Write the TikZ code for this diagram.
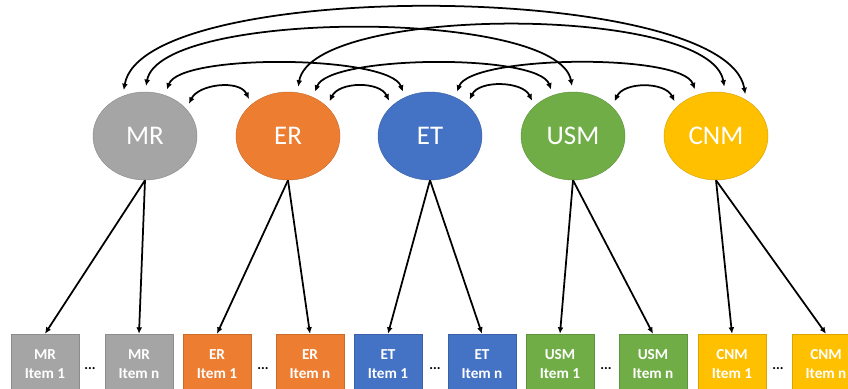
\documentclass[tikz,border=0pt]{standalone}
\usepackage{fontspec}
\setmainfont{Carlito}
\usetikzlibrary{shapes,arrows.meta}
\definecolor{mrgray}{HTML}{A5A5A5}
\definecolor{erorange}{HTML}{ED7D31}
\definecolor{etblue}{HTML}{4472C4}
\definecolor{usmgreen}{HTML}{70AD47}
\definecolor{cnmgold}{HTML}{FFC000}
\tikzstyle{factor} = [ellipse,minimum width=3.12cm,minimum height=2.64cm,inner sep=0pt,text=white,font=\fontsize{23}{26}\selectfont]
\tikzstyle{item} = [rectangle,minimum width=2.04cm,minimum height=1.8cm,inner sep=0pt,align=center,text=white,font=\bfseries\fontsize{13}{16}\selectfont]
\tikzstyle{dots} = [inner sep=0pt,anchor=base,font=\bfseries\fontsize{12}{14}\selectfont]
\tikzstyle{corr} = [<->,line width=1.5pt,shorten <=5pt,shorten >=5pt]
\tikzstyle{load} = [->,line width=1.5pt]
\tikzset{>={Latex[length=5.5pt,width=5pt]}}

\begin{document}
\begin{tikzpicture}[x=0.03cm,y=0.03cm]
    \useasboundingbox (0,0) rectangle (848,388);

    \node [factor,fill=mrgray,draw=mrgray!85!black] (MR) at (145,252) {MR};
    \node [factor,fill=erorange,draw=erorange!85!black] (ER) at (288,252) {ER};
    \node [factor,fill=etblue,draw=etblue!85!black] (ET) at (430,252) {ET};
    \node [factor,fill=usmgreen,draw=usmgreen!85!black] (USM) at (573,252) {USM};
    \node [factor,fill=cnmgold,draw=cnmgold!85!black] (CNM) at (716,252) {CNM};

    \foreach \x/\n/\f/\i/\c in {45/MRa/MR/1/mrgray, 139/MRb/MR/n/mrgray, 217/ERa/ER/1/erorange, 310/ERb/ER/n/erorange, 388/ETa/ET/1/etblue, 482/ETb/ET/n/etblue, 560/USMa/USM/1/usmgreen, 653/USMb/USM/n/usmgreen, 732/CNMa/CNM/1/cnmgold, 826/CNMb/CNM/n/cnmgold} {
        \node [item,fill=\c,draw=\c!85!black] (\n) at (\x,24) {\f\\Item \i};
        \draw [load] (\f.south) -- (\n.north);
    }

    \foreach \x/\n in {90/dMR, 263/dER, 435/dET, 606/dUSM, 778/dCNM}
        \node [dots] (\n) at (\x,19) {...};

    \draw [corr] (MR.33) .. controls +(12,25) and +(-12,25) .. (ER.139);
    \draw [corr] (ER.37) .. controls +(12,25) and +(-12,25) .. (ET.142);
    \draw [corr] (ET.40) .. controls +(12,25) and +(-12,25) .. (USM.142);
    \draw [corr] (USM.37) .. controls +(12,25) and +(-12,25) .. (CNM.143);

    \draw [corr] (MR.64) .. controls +(15,42) and +(-15,42) .. (ET.123);
    \draw [corr] (ER.57) .. controls +(15,42) and +(-15,42) .. (USM.116);
    \draw [corr] (ET.57) .. controls +(15,42) and +(-15,42) .. (CNM.115);

    \draw [corr] (MR.90) .. controls +(15,83) and +(-15,83) .. (USM.90);
    \draw [corr] (ER.78) .. controls +(15,88) and +(-15,88) .. (CNM.78);
    \draw [corr] (MR.119) .. controls +(20,119) and +(-20,119) .. (CNM.50);
\end{tikzpicture}
\end{document}
